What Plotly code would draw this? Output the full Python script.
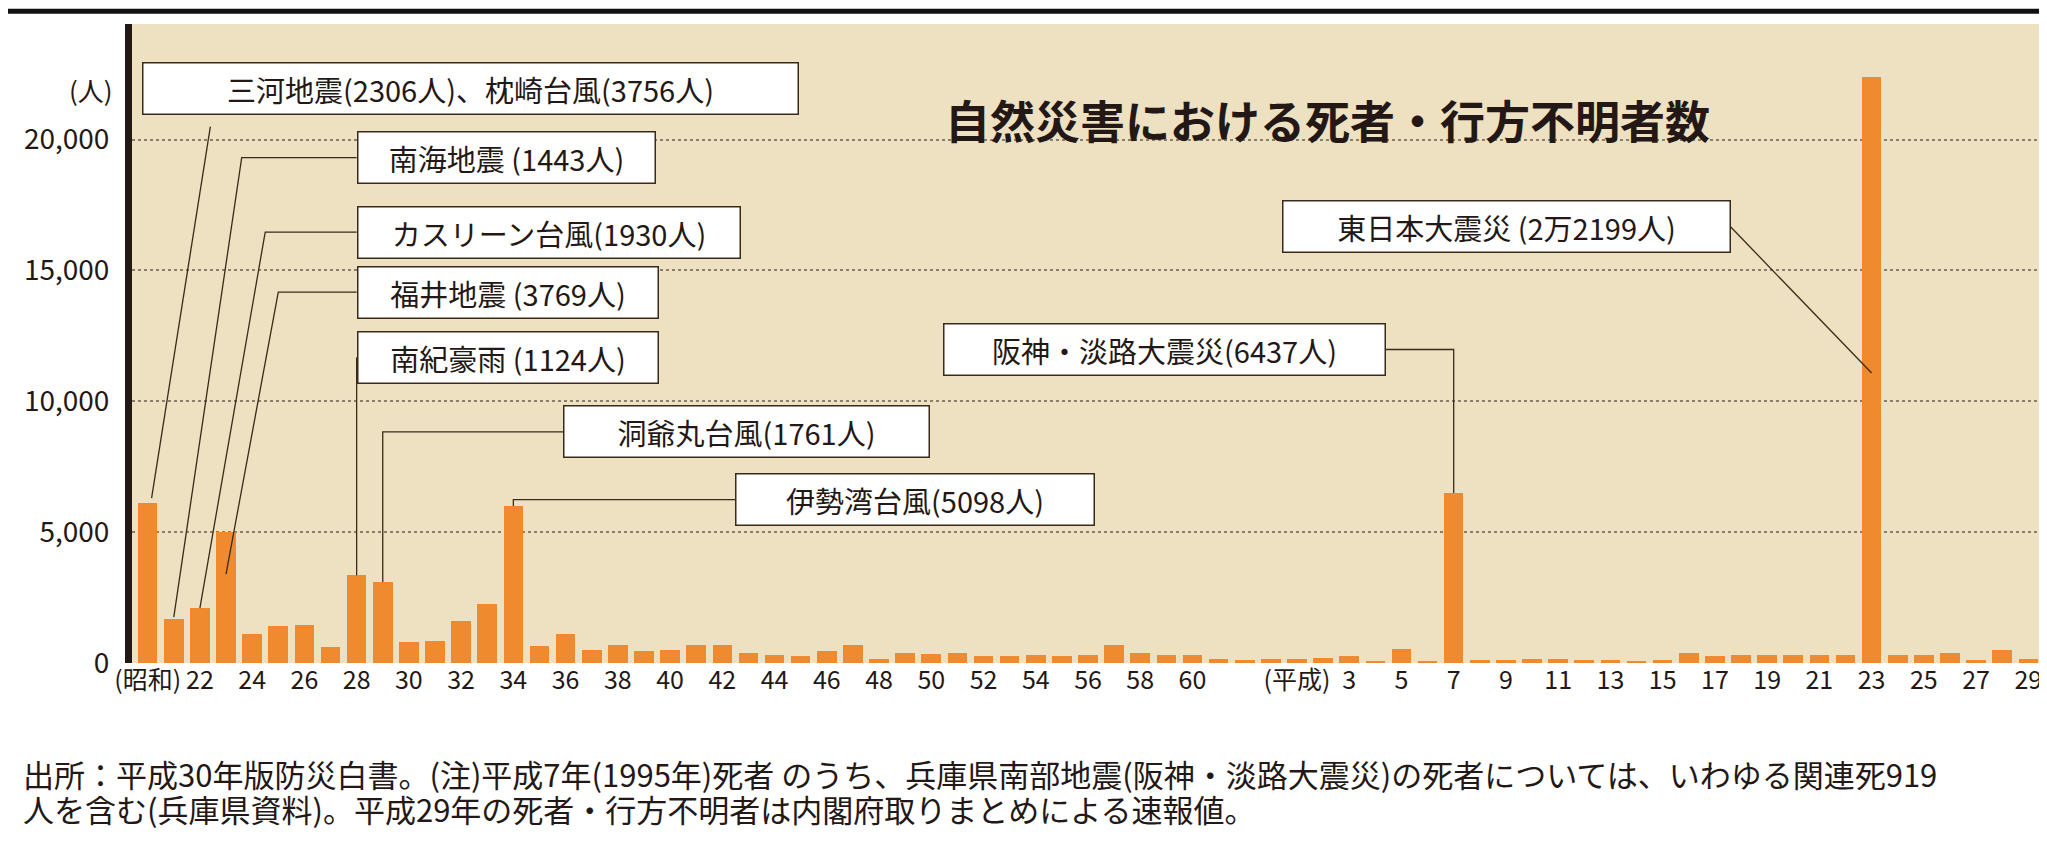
import plotly.graph_objects as go

# 昭和20年(1945) 〜 平成29年(2017)
years = list(range(1945, 2018))
deaths = [6100, 1700, 2100, 5000, 1100, 1400, 1450, 600, 3350, 3100,
          800, 850, 1600, 2250, 6000, 650, 1100, 500, 700, 450,
          500, 700, 700, 400, 300, 250, 450, 700, 150, 400,
          350, 400, 250, 250, 300, 250, 300, 700, 400, 300,
          300, 150, 100, 150, 150, 200, 250, 50, 550, 50,
          6500, 100, 100, 150, 150, 100, 100, 80, 100, 400,
          250, 300, 300, 300, 300, 300, 22400, 300, 300, 400,
          100, 500, 150]

tick_years = list(range(1945, 1987, 2)) + [1989] + list(range(1991, 2018, 2))
tick_text = ["(昭和)"] + [str(y) for y in range(22, 61, 2)] + ["(平成)"] + [str(y) for y in range(3, 30, 2)]

# label text, anchor (year, persons), x anchor, box width px, leader path points
labels = [
    ("三河地震(2306人)、枕崎台風(3756人)", (1944.8, 21960), "left", 640,
     [(1947.4, 20500), (1945.15, 6300)]),
    ("南海地震 (1443人)", (1953.0, 19310), "left", 282,
     [(1953.0, 19310), (1948.6, 19310), (1946.0, 1750)]),
    ("カスリーン台風(1930人)", (1953.0, 16470), "left", 367,
     [(1953.0, 16470), (1949.5, 16470), (1947.0, 2100)]),
    ("福井地震 (3769人)", (1953.0, 14170), "left", 285,
     [(1953.0, 14170), (1950.0, 14170), (1948.0, 3400)]),
    ("南紀豪雨 (1124人)", (1953.0, 11680), "left", 285,
     [(1953.0, 11680), (1953.0, 3350)]),
    ("洞爺丸台風(1761人)", (1960.9, 8830), "left", 350,
     [(1960.9, 8830), (1954.0, 8830), (1954.0, 3100)]),
    ("伊勢湾台風(5098人)", (1967.5, 6240), "left", 343,
     [(1967.5, 6240), (1959.0, 6240), (1959.0, 6000)]),
    ("阪神・淡路大震災(6437人)", (1992.4, 11980), "right", 426,
     [(1992.4, 11980), (1995.0, 11980), (1995.0, 6500)]),
    ("東日本大震災 (2万2199人)", (2005.6, 16670), "right", 432,
     [(2005.6, 16670), (2011.0, 11080)]),
]

fig = go.Figure()
fig.add_trace(go.Bar(x=years, y=deaths, width=0.75, marker_color="#ef8a2f",
                     marker_line_width=0, hoverinfo="x+y"))

for text, (bx, by), anchor, w, path in labels:
    d = " ".join(("M" if i == 0 else "L") + f" {px} {py}" for i, (px, py) in enumerate(path))
    fig.add_shape(type="path", path=d, xref="x", yref="y",
                  line=dict(color="#3a2a1a", width=1.3))
    fig.add_annotation(x=bx, y=by, xref="x", yref="y", text=text, showarrow=False,
                       xanchor=anchor, width=w, height=36,
                       bgcolor="white", bordercolor="#3a2a1a", borderwidth=1.5,
                       borderpad=7, font=dict(size=29, color="#231815"))

fig.add_annotation(x=0.625, y=0.905, xref="paper", yref="paper",
                   text="<b>自然災害における死者・行方不明者数</b>", showarrow=False,
                   font=dict(size=45, color="#231815"))
fig.add_annotation(x=-0.034, y=0.93, xref="paper", yref="paper", text="(人)",
                   showarrow=False, font=dict(size=26, color="#231815"))
fig.add_annotation(x=-0.058, y=-0.135, xref="paper", yref="paper", xanchor="left", yanchor="top",
                   text="出所：平成30年版防災白書。(注)平成7年(1995年)死者 のうち、兵庫県南部地震(阪神・淡路大震災)の死者については、いわゆる関連死919",
                   showarrow=False, font=dict(size=31, color="#231815"))
fig.add_annotation(x=-0.058, y=-0.19, xref="paper", yref="paper", xanchor="left", yanchor="top",
                   text="人を含む(兵庫県資料)。平成29年の死者・行方不明者は内閣府取りまとめによる速報値。",
                   showarrow=False, font=dict(size=31, color="#231815"))
fig.add_shape(type="line", xref="paper", yref="paper", x0=-0.07, x1=1.01, y0=1.02, y1=1.02,
              line=dict(color="#111", width=5))

fig.update_layout(
    width=2047, height=857,
    margin=dict(l=124, r=11, t=16, b=202),
    paper_bgcolor="white", plot_bgcolor="#ede1c1",
    showlegend=False, bargap=0,
    font=dict(family="Liberation Sans Narrow, Noto Sans CJK JP", color="#231815"),
    xaxis=dict(range=[1944.4, 2017.6], tickvals=tick_years, ticktext=tick_text,
               tickangle=0, tickfont=dict(size=25), showgrid=False, ticks="", zeroline=False),
    yaxis=dict(range=[0, 24420], tickvals=[0, 5000, 10000, 15000, 20000],
               tickformat=",", tickfont=dict(size=28), showgrid=True,
               gridcolor="#8a7f6a", griddash="dot", gridwidth=2, zeroline=False,
               showline=True, linecolor="#231815", linewidth=7, ticks="", ticklabelstandoff=10),
)

fig.write_html("out.html")
